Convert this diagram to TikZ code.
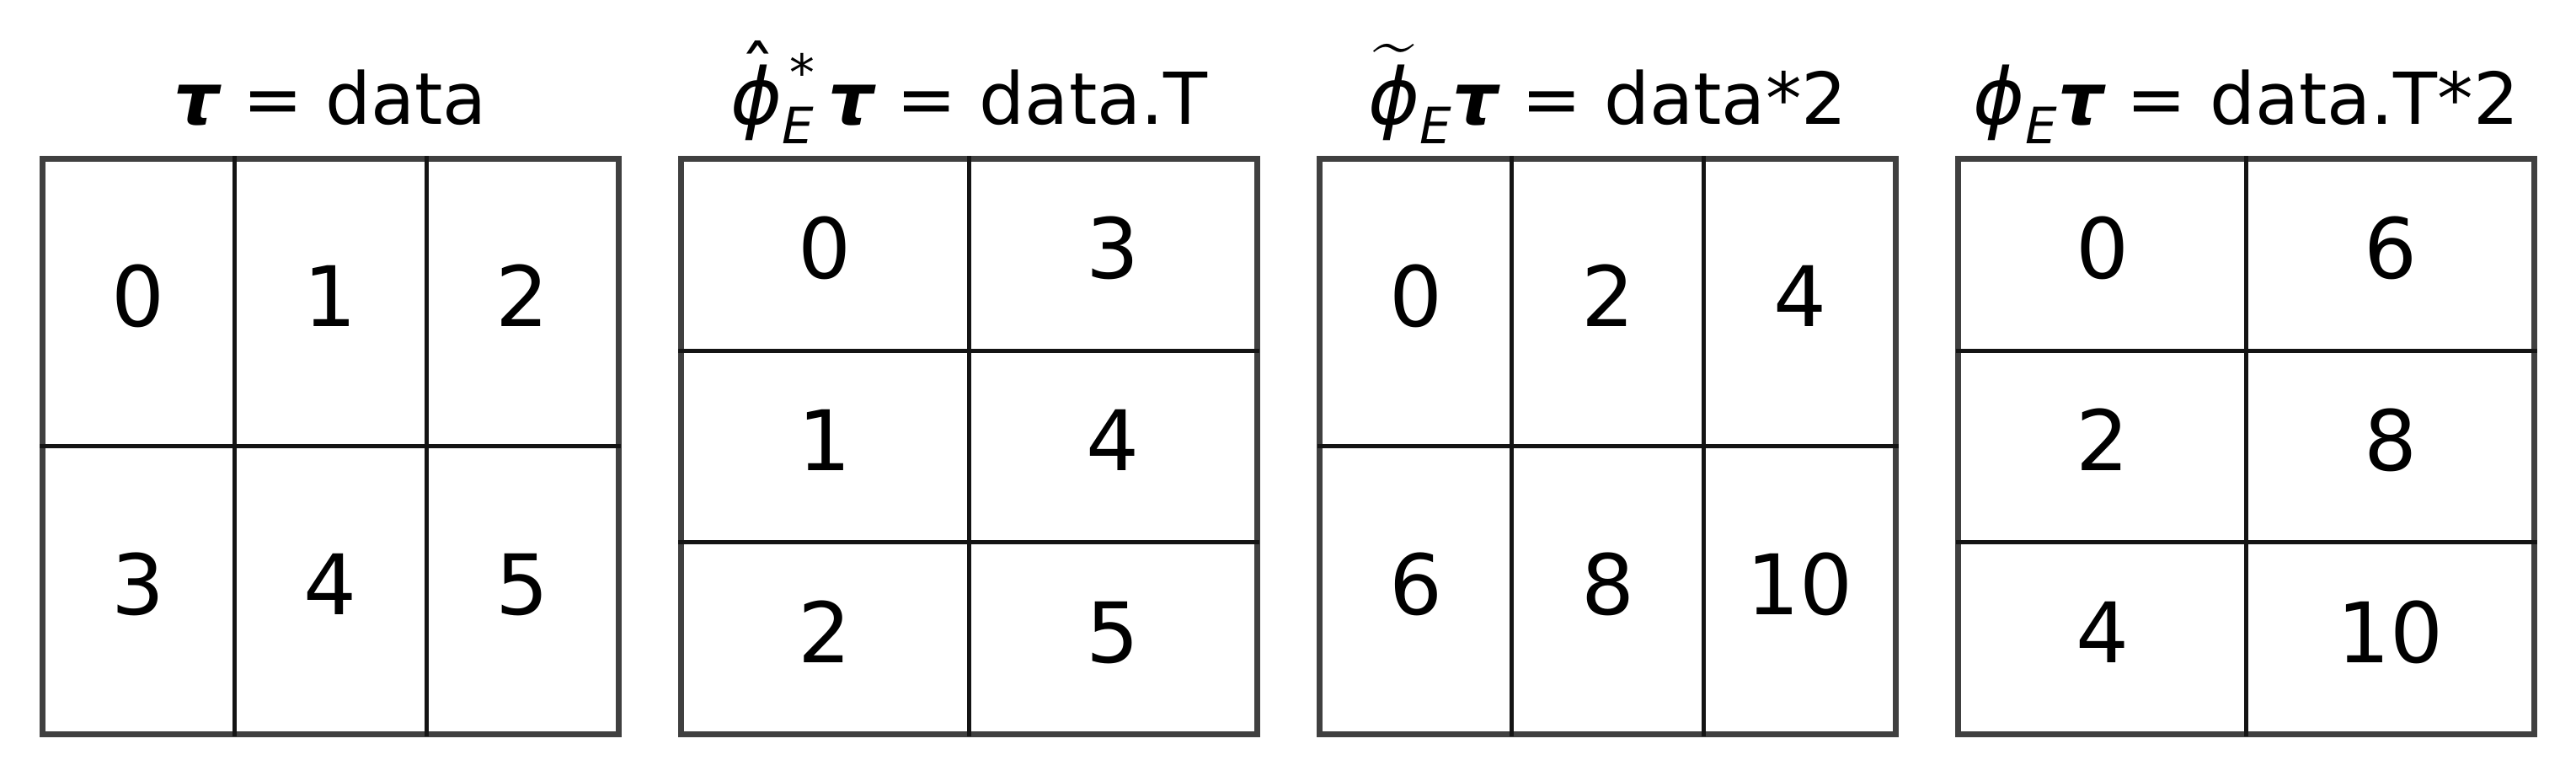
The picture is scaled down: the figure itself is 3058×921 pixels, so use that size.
\documentclass[tikz,border=0pt]{standalone}
\usepackage{amsmath}
\usepackage{fontspec}
\setmainfont{DejaVu Sans}
\usetikzlibrary{calc}
\definecolor{bordergray}{HTML}{404040}
\definecolor{gridblack}{HTML}{141414}
\tikzset{
  tbl/.style={draw=bordergray, line width=0.65mm, minimum width=68.4mm, minimum height=68.3mm, inner sep=0pt, outer sep=0pt, anchor=north west},
  gridline/.style={draw=gridblack, line width=0.5mm, shorten <=-0.3mm, shorten >=-0.3mm},
  cell/.style={font=\fontsize{28.2}{34}\selectfont, anchor=base, inner sep=0pt},
  ttl/.style={font=\fontsize{24.2}{29}\selectfont, anchor=base, inner sep=0pt},
}
\newcommand\tauB{\text{\bfseries\itshape τ}}
\newcommand\phiI{\text{\fontsize{26.4}{30}\selectfont\itshape ϕ}}
\newcommand\hatphiI{\text{\rlap{\hspace{0.38em}\makebox[0pt]{\raisebox{0.37em}{ˆ}}}\fontsize{26.4}{30}\selectfont\itshape ϕ}}
\newcommand\subE{\text{\itshape E}}
\newcommand\supstar{\text{\hspace{0.15em}\raisebox{-0.6em}{*}}}
\begin{document}
\begin{tikzpicture}[x=0.1mm, y=-0.1mm]
\useasboundingbox (0,0) rectangle (3058,921);
% tables
\foreach \k/\nc/\nr/\vals in {0/3/2/{0,1,2,3,4,5}, 1/2/3/{0,3,1,4,2,5}, 2/3/2/{0,2,4,6,8,10}, 3/2/3/{0,6,2,8,4,10}} {
  \pgfmathsetmacro\lft{50.3+758.1*\k}
  \node[tbl] (T\k) at (\lft,188.5) {};
  \pgfmathtruncatemacro\ncm{\nc-1}
  \pgfmathtruncatemacro\nrm{\nr-1}
  \foreach \j in {1,...,\ncm} {
    \draw[gridline] ($(T\k.north west)!\j/\nc!(T\k.north east)$) -- ($(T\k.south west)!\j/\nc!(T\k.south east)$);
  }
  \foreach \j in {1,...,\nrm} {
    \draw[gridline] ($(T\k.north west)!\j/\nr!(T\k.south west)$) -- ($(T\k.north east)!\j/\nr!(T\k.south east)$);
  }
  \foreach \v [count=\i from 0] in \vals {
    \pgfmathtruncatemacro\col{mod(\i,\nc)}
    \pgfmathtruncatemacro\row{int(\i/\nc)}
    \pgfmathsetmacro\cx{\lft+(\col+0.5)*684/\nc}
    \pgfmathsetmacro\cy{188.5+(\row+0.5)*683/\nr+28.5}
    \node[cell] (c\k-\i) at (\cx,\cy) {\v};
  }
}
% titles
\node[ttl] (t0) at ($(T0.north)+(0,-40.5)$) {$\tauB$ = data};
\node[ttl] (t1) at ($(T1.north)+(0,-40.5)$) {$\hatphiI^{\supstar}_{\subE}\,\tauB$ = data.T};
\node[ttl] (t2) at ($(T2.north)+(0,-40.5)$) {$\widetilde{\phiI}_{\subE}\tauB$ = data*2};
\node[ttl] (t3) at ($(T3.north)+(0,-40.5)$) {$\phiI_{\subE}\tauB$ = data.T*2};
\end{tikzpicture}
\end{document}
